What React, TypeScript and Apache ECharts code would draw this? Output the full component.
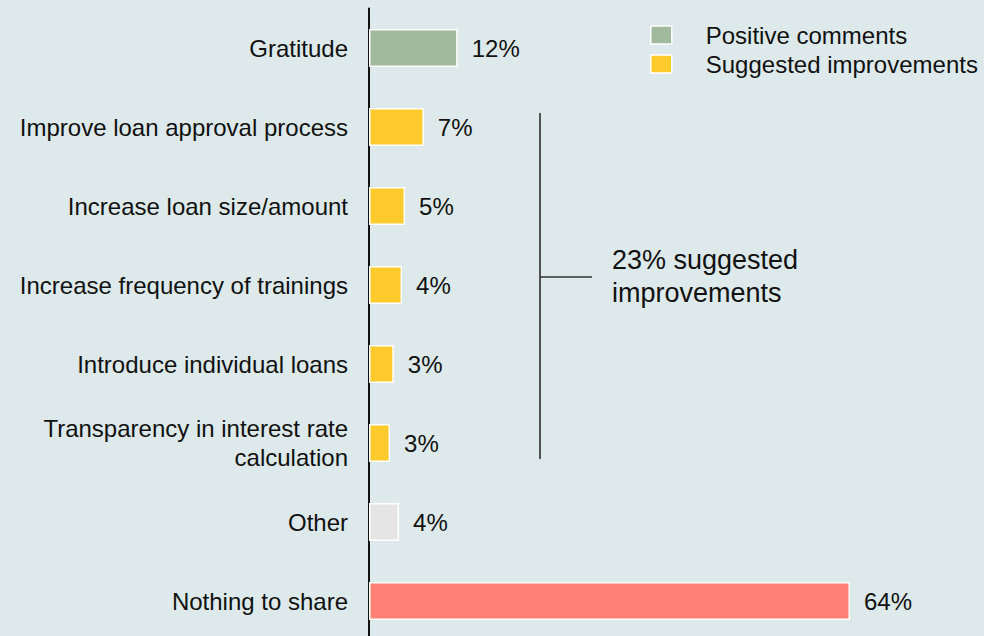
import React, { useEffect, useRef } from "react";
import * as echarts from "echarts";

const categories = [
  "Gratitude",
  "Improve loan approval process",
  "Increase loan size/amount",
  "Increase frequency of trainings",
  "Introduce individual loans",
  "Transparency in interest rate\ncalculation",
  "Other",
  "Nothing to share",
];
const positiveValues = [11.8, "-", "-", "-", "-", "-", "-", "-"];
const improvementValues = ["-", 7.3, 4.8, 4.4, 3.3, 2.8, "-", "-"];
const otherValues = ["-", "-", "-", "-", "-", "-", 4.0, 64];
const labels = ["12%", "7%", "5%", "4%", "3%", "3%", "4%", "64%"];
const bracketText = "23% suggested\nimprovements";

const FONT = "Liberation Sans, Arial, Helvetica, sans-serif";
const GREEN = "#a1b99d";
const YELLOW = "#ffca2c";
const GREY = "#e5e5e5";
const RED = "#ff8075";

export default function App() {
  const ref = useRef<HTMLDivElement>(null);
  useEffect(() => {
    if (!ref.current) return;
    const chart = echarts.init(ref.current, null, { renderer: "svg" });
    const label = {
      show: true,
      position: "right",
      distance: 14,
      fontSize: 24,
      fontFamily: FONT,
      color: "#111",
      formatter: (p: any) => labels[p.dataIndex],
    };
    const itemStyleBase = { borderColor: "#ffffff", borderWidth: 1.5 };
    chart.setOption({
      animation: false,
      backgroundColor: "#dde9ea",
      textStyle: { fontFamily: FONT },
      grid: { left: 369, top: 8.5, width: 481, height: 632, containLabel: false },
      legend: {
        orient: "vertical",
        left: 645,
        top: 17,
        itemWidth: 21,
        itemHeight: 18,
        itemGap: 3,
        icon: "rect",
        data: ["Positive comments", "Suggested improvements"],
        textStyle: {
          fontSize: 24,
          fontFamily: FONT,
          color: "#111",
          padding: [0, 0, 0, 29],
          lineHeight: 26,
        },
        itemStyle: { borderColor: "#ffffff", borderWidth: 1.5 },
      },
      xAxis: {
        type: "value",
        min: 0,
        max: 64,
        show: false,
      },
      yAxis: {
        type: "category",
        data: categories,
        inverse: true,
        axisLine: { show: true, lineStyle: { color: "#111", width: 2 } },
        axisTick: { show: false },
        axisLabel: {
          fontSize: 24,
          fontFamily: FONT,
          color: "#111",
          margin: 21,
          lineHeight: 29,
          align: "right",
        },
      },
      series: [
        {
          name: "Positive comments",
          type: "bar",
          stack: "s",
          barWidth: 38,
          data: positiveValues,
          itemStyle: { ...itemStyleBase, color: GREEN },
          label,
        },
        {
          name: "Suggested improvements",
          type: "bar",
          stack: "s",
          barWidth: 38,
          data: improvementValues,
          itemStyle: { ...itemStyleBase, color: YELLOW },
          label,
        },
        {
          name: "Rest",
          type: "bar",
          stack: "s",
          barWidth: 38,
          data: otherValues.map((v, i) =>
            v === "-" ? v : { value: v, itemStyle: { color: i === 6 ? GREY : RED } }
          ),
          itemStyle: { ...itemStyleBase },
          label,
        },
      ],
    });

    const yTop = chart.convertToPixel({ yAxisIndex: 0 }, 1) as number;
    const yBot = chart.convertToPixel({ yAxisIndex: 0 }, 5) as number;
    const x0 = 540;
    const top = yTop - 14;
    const bot = yBot + 16;
    const mid = 277;
    chart.setOption({
      graphic: [
        {
          type: "line",
          shape: { x1: x0, y1: top, x2: x0, y2: bot },
          style: { stroke: "#222", lineWidth: 1.5 },
        },
        {
          type: "line",
          shape: { x1: x0, y1: mid, x2: x0 + 52, y2: mid },
          style: { stroke: "#333", lineWidth: 1.5 },
        },
        {
          type: "text",
          x: 612,
          y: 276,
          style: {
            text: bracketText,
            fontSize: 27,
            fontFamily: FONT,
            fill: "#111",
            lineHeight: 33,
            verticalAlign: "middle",
            align: "left",
          },
        },
      ],
    });
    return () => chart.dispose();
  }, []);
  return (
    <div
      style={{
        position: "fixed",
        left: 0,
        top: 0,
        width: 984,
        height: 636,
        overflow: "hidden",
      }}
    >
      <div ref={ref} style={{ width: 984, height: 650 }} />
    </div>
  );
}
